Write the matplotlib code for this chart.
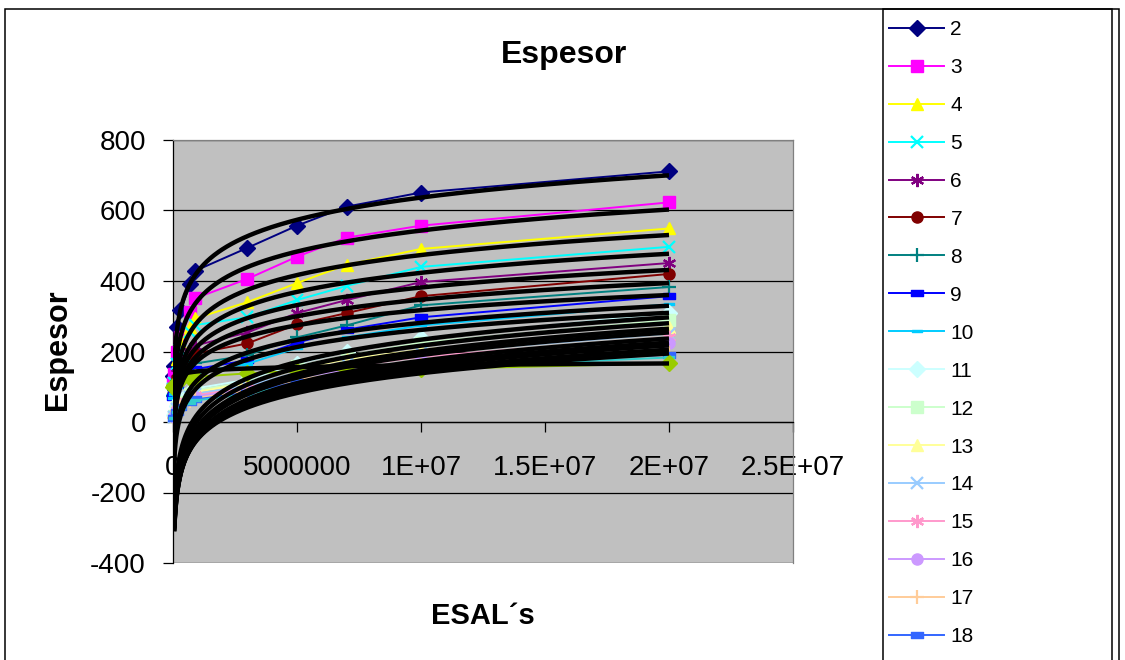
import numpy as np
import matplotlib
matplotlib.use("Agg")
import matplotlib.pyplot as plt
from matplotlib.patches import Rectangle
from matplotlib.path import Path

plt.rcParams["font.family"] = ["Liberation Sans", "DejaVu Sans"]
plt.rcParams["axes.unicode_minus"] = False

nan = np.nan

# ---- data -------------------------------------------------------------
esal = [5000, 50000, 150000, 300000, 700000, 900000,
        3000000, 5000000, 7000000, 10000000, 20000000]

series_names = ["2", "3", "4", "5", "6", "7", "8", "9", "10", "11",
                "12", "13", "14", "15", "16", "17", "18", "19", "20"]

s2 = [131, 160, 269, 317, 391, 429, 494, 557, 611, 651, 711]
s3 = [110, 135, 200, 240, 311, 351, 406, 469, 523, 557, 623]
s4 = [97, 120, 180, 225, 270, 294, 340, 394, 446, 491, 549]
s5 = [94, 110, 165, 205, 255, 275, 297, 346, 386, 440, 497]
s6 = [85, 100, 140, 170, 200, 217, 254, 309, 346, 397, 451]
s7 = [80, 95, 125, 150, 180, 194, 223, 277, 309, 357, 420]
s8 = [75, 90, 115, 135, 155, 166, 189, 240, 274, 331, 383]
s9 = [72, 85, 105, 122, 140, 150, 175, 225, 262, 297, 357]
s10 = [68, 80, 100, 115, 130, 140, 165, 210, 240, 274, 334]
s11 = [nan, 20, 45, 62, 85, 95, 120, 165, 200, 237, 309]
s12 = [nan, 18, 42, 58, 80, 90, 113, 158, 188, 225, 289]
s13 = [nan, 16, 40, 55, 76, 85, 110, 150, 178, 205, 269]
s14 = [nan, 15, 37, 52, 72, 80, 102, 140, 165, 195, 251]
s15 = [nan, 14, 35, 50, 68, 76, 97, 133, 157, 185, 240]
s16 = [nan, 13, 33, 47, 64, 72, 92, 126, 148, 175, 223]
s17 = [nan, 12, 31, 44, 60, 68, 87, 119, 140, 163, 197]
s18 = [nan, 11, 29, 42, 57, 64, 83, 113, 133, 158, 191]
s19 = [nan, 10, 27, 40, 54, 61, 79, 108, 127, 152, 183]
s20 = [100, 105, 112, 118, 125, 128, 138, 145, 148, 150, 166]

series_values = [s2, s3, s4, s5, s6, s7, s8, s9, s10, s11,
                 s12, s13, s14, s15, s16, s17, s18, s19, s20]

# logarithmic trendlines: y = slope * ln(x) + intercept
trend_slope = [91, 86, 82, 78, 72, 68, 62, 70, 70, 91.3,
               91.8, 92.6, 92.5, 91.3, 89.3, 87.1, 84.3, 80.8, 7.5]
trend_intercept = [-830, -843, -848, -834, -779, -749, -682, -847, -867, -1238,
                   -1263, -1292, -1301, -1298, -1276, -1247, -1212, -1164, 40]

# legend entries that fit inside the chart area
legend_count = 17

xtick_values = [0, 5000000, 10000000, 15000000, 20000000, 25000000]
xtick_labels = ["0", "5000000", "1E+07", "1.5E+07", "2E+07", "2.5E+07"]
ytick_values = [-400, -200, 0, 200, 400, 600, 800]
ytick_labels = ["-400", "-200", "0", "200", "400", "600", "800"]

# ---- styles -----------------------------------------------------------
colors = ["#000080", "#FF00FF", "#FFFF00", "#00FFFF", "#800080", "#800000",
          "#008080", "#0000FF", "#00CCFF", "#CCFFFF", "#CCFFCC", "#FFFF99",
          "#99CCFF", "#FF99CC", "#CC99FF", "#FFCC99", "#3366FF", "#33CCCC",
          "#99CC00"]

short_bar = Path([(-0.5, -0.28), (0.5, -0.28), (0.5, 0.28), (-0.5, 0.28), (-0.5, -0.28)],
                 [Path.MOVETO, Path.LINETO, Path.LINETO, Path.LINETO, Path.CLOSEPOLY])
long_bar = Path([(-1.0, -0.22), (1.0, -0.22), (1.0, 0.22), (-1.0, 0.22), (-1.0, -0.22)],
                [Path.MOVETO, Path.LINETO, Path.LINETO, Path.LINETO, Path.CLOSEPOLY])
asterisk = (6, 2, 0)
marker_cycle = ["D", "s", "^", "x", asterisk, "o", "+", short_bar, long_bar]
marker_size = {"D": 8, "s": 8, "^": 8.5, "x": 8.5, "o": 8, "+": 9.5}

W, H = 1125, 660
fig = plt.figure(figsize=(W / 100, H / 100), dpi=100)
fig.patch.set_facecolor("white")

ax = fig.add_axes([173 / W, (H - 563) / H, 620 / W, 423 / H])
ax.set_facecolor("#C0C0C0")

x_arr = np.array(esal, dtype=float)
handles = []
for i, (name, vals) in enumerate(zip(series_names, series_values)):
    m = marker_cycle[i % len(marker_cycle)]
    if isinstance(m, str):
        ms = marker_size[m]
    elif m is asterisk:
        ms = 9.5
    elif m is short_bar:
        ms = 8
    else:
        ms = 7
    mew = 1.6 if (m in ("x", "+") or m is asterisk) else 1.0
    ln, = ax.plot(esal, vals, color=colors[i], lw=1.4, marker=m, ms=ms,
                  mfc=colors[i], mec=colors[i], mew=mew, zorder=3,
                  clip_on=False, label=name)
    handles.append(ln)

# trendlines, each over the x range of its own series
for vals, a, b in zip(series_values, trend_slope, trend_intercept):
    valid = x_arr[~np.isnan(np.array(vals, dtype=float))]
    x0, x1 = valid.min(), valid.max()
    xt = np.unique(np.concatenate([np.geomspace(x0, x1, 600),
                                   np.linspace(x0, x1, 600)]))
    ax.plot(xt, a * np.log(xt) + b, color="black", lw=3.2, zorder=4,
            solid_capstyle="butt")

ax.set_xlim(0, 25000000)
ax.set_ylim(-400, 800)
ax.set_xticks(xtick_values)
ax.set_xticklabels(xtick_labels)
ax.set_yticks(ytick_values)
ax.set_yticklabels(ytick_labels)

ax.yaxis.grid(True, color="black", lw=0.9, zorder=1)
ax.set_axisbelow(True)

ax.spines["bottom"].set_position(("data", 0))
ax.spines["bottom"].set_color("black")
ax.spines["bottom"].set_linewidth(0.9)
ax.spines["left"].set_color("black")
ax.spines["left"].set_linewidth(0.9)
for side in ("top", "right"):
    ax.spines[side].set_color("#808080")
    ax.spines[side].set_linewidth(0.9)

ax.tick_params(axis="x", direction="out", length=7, width=0.9, pad=17,
               labelsize=20, colors="black")
ax.tick_params(axis="y", direction="out", length=7, width=0.9, pad=12.5,
               labelsize=20, colors="black")

fig.text(564 / W, 1 - 55 / H, "Espesor", ha="center", va="center",
         fontsize=23, fontweight="bold")
fig.text(483 / W, 1 - 616 / H, "ESAL´s", ha="center", va="center",
         fontsize=21, fontweight="bold")
fig.text(58 / W, 1 - 350 / H, "Espesor", ha="center", va="center",
         rotation=90, fontsize=22, fontweight="bold")

# chart area and legend frames
fig.patches.append(Rectangle((5 / W, -0.1), (1119 - 5) / W, (H - 9) / H + 0.1,
                             transform=fig.transFigure, fill=False,
                             ec="black", lw=1.1))
fig.patches.append(Rectangle((883 / W, -0.1), (1112 - 883) / W, (H - 9) / H + 0.1,
                             transform=fig.transFigure, fill=False,
                             ec="black", lw=1.1))

fig.legend(handles[:legend_count], series_names[:legend_count], loc="upper left",
           bbox_to_anchor=(889 / W, 1 - 20 / H), frameon=False,
           fontsize=15, handlelength=2.65, handletextpad=0.3,
           labelspacing=0.91, borderpad=0, borderaxespad=0)

fig.savefig("out.png", dpi=100, facecolor="white")
